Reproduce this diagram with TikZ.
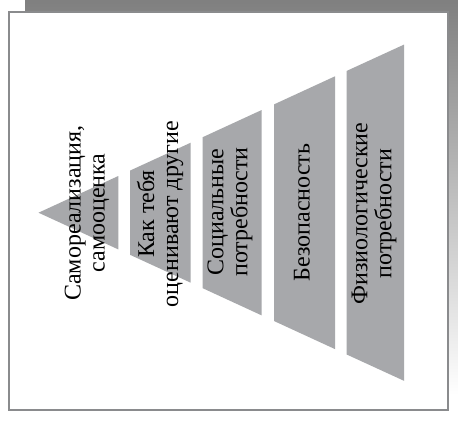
\documentclass[tikz,border=0pt]{standalone}
\usepackage{fontspec}
\setmainfont{Liberation Serif}
\definecolor{shade}{HTML}{A7A8AB}
\definecolor{frame}{HTML}{8A8B8D}
\begin{document}
\begin{tikzpicture}[x=1pt,y=-1pt,
  level/.style={fill=shade,draw=none},
  lbl/.style={rotate=90,align=center,inner sep=0pt,font=\fontsize{24}{24}\selectfont}]
\useasboundingbox (0,0) rectangle (458,421);
\fill[shade] (25,0) rectangle (458,395);
\draw[frame,fill=white,line width=2pt] (9,12) rectangle (448,410);
% pyramid levels
\fill[level] (38.5,212.7) -- (118.3,176) -- (118.3,249.4) -- cycle;
\fill[level] (130,170.6) -- (190.7,142.7) -- (190.7,282.7) -- (130,254.8) -- cycle;
\fill[level] (202.7,137.2) -- (261.7,110) -- (261.7,315.4) -- (202.7,288.2) -- cycle;
\fill[level] (274,104.4) -- (335,76.3) -- (335,349.1) -- (274,321) -- cycle;
\fill[level] (346.7,70.9) -- (404,44.6) -- (404,380.8) -- (346.7,354.5) -- cycle;
% labels
\node[lbl] (l1) at (87,213) {Самореализация,\\самооценка};
\node[lbl] (l2) at (160,214) {Как тебя\\оценивают другие};
\node[lbl] (l3) at (230,212) {Социальные\\потребности};
\node[lbl] (l4) at (302,212.5) {Безопасность};
\node[lbl] (l5) at (374,213.5) {Физиологические\\потребности};
\end{tikzpicture}
\end{document}
